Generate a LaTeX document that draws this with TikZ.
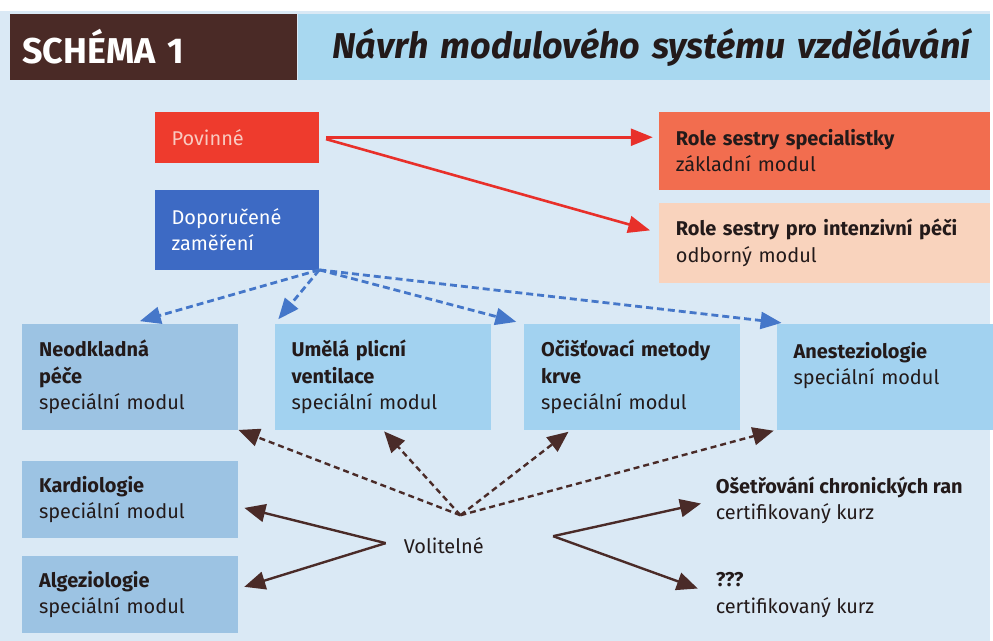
\documentclass[tikz,border=0pt]{standalone}
\usepackage{fontspec}
\setmainfont{Fira Sans}
\usetikzlibrary{arrows.meta,positioning}
\definecolor{bgblue}{HTML}{DAE9F5}
\definecolor{hdbrown}{HTML}{4A2A26}
\definecolor{hdblue}{HTML}{A8D8F0}
\definecolor{ink}{HTML}{231A1A}
\definecolor{povred}{HTML}{EE3B2D}
\definecolor{povtext}{HTML}{F9C9C0}
\definecolor{dopblue}{HTML}{3D6AC4}
\definecolor{roleorange}{HTML}{F26D4F}
\definecolor{rolepeach}{HTML}{F9D3BD}
\definecolor{modblue}{HTML}{A2D2F0}
\definecolor{modgray}{HTML}{9CC3E3}
\definecolor{arrred}{HTML}{E8302A}
\definecolor{dashblue}{HTML}{4577C9}
\definecolor{arrbrown}{HTML}{4A2B28}

\begin{document}
\begin{tikzpicture}[x=1pt,y=-1pt,
  every node/.style={text=ink,font=\fontsize{20}{26.5}\selectfont},
  box/.style={anchor=north west,inner xsep=17pt,inner ysep=0pt,align=left},
  modbox/.style={box,fill=modblue,minimum height=106pt,text width=183pt},
  sidebox/.style={modbox,fill=modgray,minimum height=78pt},
  rolebox/.style={box,minimum height=78pt,text width=298pt},
  tagbox/.style={box,text width=131pt,text=white},
  plain/.style={anchor=west,inner sep=0pt,align=left},
  redarr/.style={-{Triangle[length=22pt,width=17pt]},draw=arrred,line width=2.6pt},
  bluearr/.style={-{Triangle[length=21pt,width=17pt]},draw=dashblue,line width=2.8pt,
                  dash pattern=on 7pt off 4pt},
  brownarr/.style={-{Triangle[length=21pt,width=18pt]},draw=arrbrown,line width=2.4pt,
                   dash pattern=on 6pt off 4pt},
  solidarr/.style={-{Triangle[length=21pt,width=18pt]},draw=arrbrown,line width=2.4pt}
]
% background and header
\fill[bgblue] (0,0) rectangle (993,643);
\fill[white] (0,0) rectangle (993,11);
\node[box,fill=hdbrown,minimum height=66pt,inner xsep=12pt,text width=264pt,
      text=white,font=\fontsize{36}{40}\selectfont\bfseries] (schema) at (10,14) {SCHÉMA 1};
\node[box,fill=hdblue,minimum height=66pt,inner xsep=35pt,text width=625pt,
      font=\fontsize{36}{40}\selectfont\bfseries\itshape] (title) at (schema.north east)
      {\mbox{Návrh modulového systému vzdělávání}};

% povinne / doporucene
\node[tagbox,fill=povred,minimum height=51pt,text=povtext] (pov) at (155,112) {Povinné};
\node[tagbox,fill=dopblue,minimum height=80pt,below=27pt of pov] (dop) {Doporučené\\zaměření};
\node[rolebox,fill=roleorange] (role1) at (661,112)
      {\textbf{Role sestry specialistky}\\základní modul};
\node[rolebox,fill=rolepeach,minimum height=80pt,below=13pt of role1] (role2)
      {\textbf{Role sestry pro intenzivní péči}\\odborný modul};

% specialni moduly
\node[modbox,fill=modgray] (neo) at (22,325) {\textbf{Neodkladná}\\\textbf{péče}\\speciální modul};
\node[modbox,right=36pt of neo] (uml) {\textbf{Umělá plicní}\\\textbf{ventilace}\\speciální modul};
\node[modbox,right=33pt of uml] (oci) {\textbf{Očišťovací metody}\\\textbf{krve}\\speciální modul};
\node[modbox,right=36pt of oci] (ane) {\textbf{Anesteziologie}\\speciální modul\\\mbox{}};
\node[sidebox] (kar) at (22,462) {\textbf{Kardiologie}\\speciální modul};
\node[sidebox,below=17pt of kar] (alg) {\textbf{Algeziologie}\\speciální modul};

% volitelne
\node[plain] (vol) at (405,547) {Volitelné};
\node[plain] (ose) at (718,502) {\textbf{Ošetřování chronických ran}\\certifikovaný kurz};
\node[plain] (que) at (718,597) {\textbf{???}\\certifikovaný kurz};
\coordinate (hub) at (462,517);
\coordinate (vl) at (387,545);
\coordinate (vr) at (555,538);

% arrows
\draw[redarr,shorten <=7pt,shorten >=6pt] (pov.east) -- (pov.east -| role1.west);
\draw[redarr,shorten <=7pt,shorten >=9pt] (pov.east) -- ([yshift=10pt]role2.west);

\draw[bluearr,shorten >=10pt] (dop.south east) -- (neo.north);
\draw[bluearr,shorten >=6pt] (dop.south east) -- (uml.north west);
\draw[bluearr,shorten >=8pt] (dop.south east) -- (oci.north west);
\draw[bluearr,shorten >=9pt] (dop.south east) -- ([xshift=14pt]ane.north west);

\draw[brownarr] (hub) -- (neo.south east);
\draw[brownarr,shorten >=2pt] (hub) -- (uml.south);
\draw[brownarr,shorten >=3pt] (hub) -- ([xshift=47pt]oci.south west);
\draw[brownarr,shorten >=3pt] (hub) -- (ane.south west);

\draw[solidarr,shorten >=6pt] (vl) -- ([yshift=-7pt]kar.east);
\draw[solidarr,shorten >=6pt] (vl) -- ([yshift=6pt]alg.east);
\draw[solidarr,shorten >=15pt] (vr) -- (ose.west);
\draw[solidarr,shorten >=19pt] (vr) -- (que.west);
\end{tikzpicture}
\end{document}
